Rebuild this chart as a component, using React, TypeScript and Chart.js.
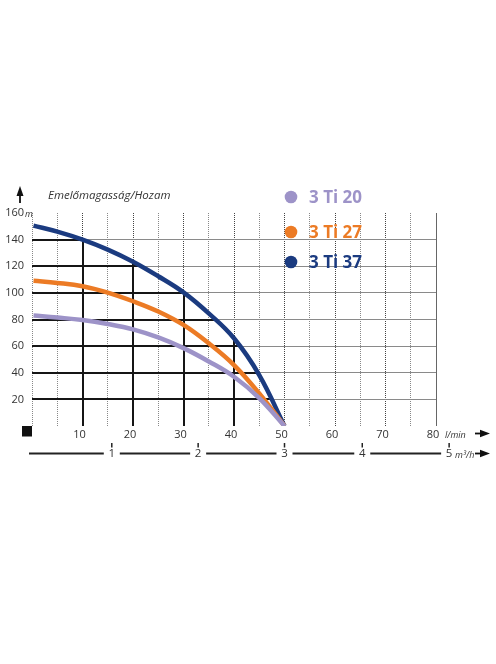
import { useEffect, useRef } from 'react';
import { Chart, registerables } from 'chart.js';

Chart.register(...registerables);

// ---- data ----
const seriesLabels = ['3 Ti 20', '3 Ti 27', '3 Ti 37'];
const seriesColors = ['#9d93c8', '#ec7b25', '#1b3b80'];

const flowLmin = [0.3, 5, 10, 15, 20, 25, 30, 35, 40, 45, 50];
const head3Ti20 = [83, 81.5, 79.6, 76.6, 72.6, 66.5, 58.5, 48.5, 37, 21, 0];
const head3Ti27 = [109.1, 107.5, 105, 100.2, 93.7, 86, 75.9, 62.1, 45.8, 24.5, 0];
const head3Ti37 = [150.5, 146, 140, 132.5, 123.4, 112.5, 100.4, 84.6, 65.9, 38.3, 0];

const xMin = 0;
const xMax = 80;
const xStep = 5;
const xLabelStep = 10;
const yMin = 0;
const yMax = 160;
const yStep = 20;

const m3hLabels = ['1', '2', '3', '4', '5'];
const m3hAtLmin = [15.8, 32.9, 50, 65.4, 82.6];

const titleText = 'Emelőmagasság/Hozam';
const yUnit = 'm';
const xUnit = 'l/min';
const x2Unit = 'm³/h';

const FONT = '"Open Sans", "DejaVu Sans", sans-serif';

function toPoints(xs: number[], ys: number[]) {
  return xs.map((x, i) => ({ x, y: ys[i] }));
}

const darkGridPlugin = {
  id: 'darkGrid',
  beforeDatasetsDraw(chart: any) {
    const { ctx, chartArea: a, scales } = chart;
    const xs = scales.x;
    const ys = scales.y;
    // solid right border
    ctx.save();
    ctx.strokeStyle = '#666';
    ctx.lineWidth = 1;
    const rx = Math.round(xs.getPixelForValue(xMax)) + 0.5;
    ctx.beginPath();
    ctx.moveTo(rx, a.top);
    ctx.lineTo(rx, a.bottom);
    ctx.stroke();
    ctx.restore();

    const meta = chart.getDatasetMeta(2);
    const line: any = meta.dataset;
    const pts: any[] = meta.data as any[];
    if (!line || !pts.length || typeof line.path !== 'function') return;
    if (typeof line.updateControlPoints === 'function') line.updateControlPoints(a, 'x');
    ctx.save();
    ctx.beginPath();
    line.path(ctx);
    const last = pts[pts.length - 1];
    const first = pts[0];
    ctx.lineTo(last.x, a.bottom);
    ctx.lineTo(a.left, a.bottom);
    ctx.lineTo(a.left, first.y);
    ctx.closePath();
    ctx.clip();
    ctx.strokeStyle = '#151515';
    ctx.lineWidth = 2;
    ctx.beginPath();
    for (let v = xMin + xLabelStep; v < xMax; v += xLabelStep) {
      const px = Math.round(xs.getPixelForValue(v));
      ctx.moveTo(px, a.top);
      ctx.lineTo(px, a.bottom);
    }
    for (let v = yMin + yStep; v < yMax; v += yStep) {
      const py = Math.round(ys.getPixelForValue(v));
      ctx.moveTo(a.left, py);
      ctx.lineTo(a.right, py);
    }
    ctx.stroke();
    ctx.restore();
  },
};

function rightArrow(ctx: CanvasRenderingContext2D, x: number, y: number) {
  ctx.beginPath();
  ctx.moveTo(x, y);
  ctx.lineTo(x + 7, y);
  ctx.lineWidth = 1.8;
  ctx.strokeStyle = '#111';
  ctx.stroke();
  ctx.beginPath();
  ctx.moveTo(x + 5, y - 3.8);
  ctx.lineTo(x + 15, y);
  ctx.lineTo(x + 5, y + 3.8);
  ctx.closePath();
  ctx.fillStyle = '#111';
  ctx.fill();
}

const decorPlugin = {
  id: 'decor',
  afterDraw(chart: any) {
    const { ctx, chartArea: a, scales } = chart;
    const xs = scales.x;
    const ys = scales.y;
    ctx.save();

    // up arrow on y axis
    ctx.fillStyle = '#111';
    ctx.beginPath();
    ctx.moveTo(20, 186);
    ctx.lineTo(23.5, 196);
    ctx.lineTo(16.5, 196);
    ctx.closePath();
    ctx.fill();
    ctx.strokeStyle = '#111';
    ctx.lineWidth = 1.8;
    ctx.beginPath();
    ctx.moveTo(20, 194);
    ctx.lineTo(20, 203);
    ctx.stroke();

    // title
    ctx.fillStyle = '#333';
    ctx.font = `italic 11.5px ${FONT}`;
    ctx.textAlign = 'left';
    ctx.textBaseline = 'middle';
    ctx.fillText(titleText, 48, 196);

    // y unit
    ctx.font = `italic 9px ${FONT}`;
    ctx.textBaseline = 'alphabetic';
    ctx.fillText(yUnit, 25, ys.getPixelForValue(yMax) + 4);

    // origin square
    ctx.fillStyle = '#111';
    ctx.fillRect(a.left - 10, a.bottom, 10, 10.5);

    // x unit + arrow
    ctx.fillStyle = '#333';
    ctx.font = `italic 9px ${FONT}`;
    ctx.textBaseline = 'middle';
    ctx.fillText(xUnit, 445, a.bottom + 9);
    rightArrow(ctx, 475, a.bottom + 7.5);

    // secondary m3/h axis
    const yAx = a.bottom + 27.5;
    let startX = xs.getPixelForValue(xMin) - 3;
    ctx.font = `11.5px ${FONT}`;
    ctx.textAlign = 'center';
    ctx.textBaseline = 'middle';
    m3hLabels.forEach((lab, i) => {
      const px = xs.getPixelForValue(m3hAtLmin[i]);
      ctx.strokeStyle = '#222';
      ctx.lineWidth = 2;
      ctx.beginPath();
      ctx.moveTo(startX, yAx);
      ctx.lineTo(px - 8, yAx);
      ctx.stroke();
      ctx.lineWidth = 1.5;
      ctx.beginPath();
      ctx.moveTo(px, yAx - 10.5);
      ctx.lineTo(px, yAx - 6);
      ctx.stroke();
      ctx.fillStyle = '#333';
      ctx.fillText(lab, px, yAx + 0.5);
      startX = px + 8;
    });
    ctx.textAlign = 'left';
    ctx.font = `italic 9px ${FONT}`;
    ctx.fillText(x2Unit, 455, yAx + 1.5);
    rightArrow(ctx, 475, yAx);

    // legend
    const legendY = [197, 232, 262];
    chart.data.datasets.forEach((ds: any, i: number) => {
      ctx.fillStyle = ds.borderColor;
      ctx.beginPath();
      ctx.arc(291, legendY[i], 6.3, 0, Math.PI * 2);
      ctx.fill();
      ctx.font = `bold 17px ${FONT}`;
      ctx.textAlign = 'left';
      ctx.textBaseline = 'middle';
      ctx.fillText(ds.label, 309, legendY[i] + 1);
    });

    ctx.restore();
  },
};

export default function App() {
  const ref = useRef<HTMLCanvasElement | null>(null);

  useEffect(() => {
    if (!ref.current) return;
    const heads = [head3Ti20, head3Ti27, head3Ti37];
    const chart = new Chart(ref.current, {
      type: 'line',
      data: {
        datasets: seriesLabels.map((label, i) => ({
          label,
          data: toPoints(flowLmin, heads[i]),
          borderColor: seriesColors[i],
          backgroundColor: seriesColors[i],
          borderWidth: 4.5,
          pointRadius: 0,
          tension: 0.4,
          fill: false,
        })),
      },
      options: {
        animation: false,
        responsive: false,
        maintainAspectRatio: false,
        events: [],
        layout: { padding: { top: 213, right: 60, left: 0, bottom: 0 } },
        plugins: {
          legend: { display: false },
          tooltip: { enabled: false },
        },
        scales: {
          x: {
            type: 'linear',
            min: xMin,
            max: xMax,
            afterFit: (s: any) => {
              s.height = 238;
            },
            border: { display: false, dash: [1, 1] },
            grid: {
              drawTicks: false,
              lineWidth: 1,
              color: (c: any) => {
                const v = c.tick ? c.tick.value : 1;
                if (v === xMax) return 'rgba(0,0,0,0)';
                if (v === xMin) return '#888';
                return v % xLabelStep === 0 ? '#444' : '#888';
              },
            },
            ticks: {
              stepSize: xStep,
              autoSkip: false,
              maxRotation: 0,
              padding: 2,
              labelOffset: -3,
              color: '#333',
              font: { family: FONT, size: 11 },
              callback: (v: any) => (Number(v) % xLabelStep === 0 && Number(v) !== xMin ? String(v) : ''),
            },
          },
          y: {
            type: 'linear',
            min: yMin,
            max: yMax,
            afterFit: (s: any) => {
              s.width = 32;
            },
            border: { display: false },
            grid: {
              drawTicks: false,
              lineWidth: 1,
              color: (c: any) => {
                const v = c.tick ? c.tick.value : 0;
                return v === yMin || v === yMax ? 'rgba(0,0,0,0)' : '#8a8a8a';
              },
            },
            ticks: {
              stepSize: yStep,
              padding: 8,
              color: '#333',
              font: { family: FONT, size: 11 },
              callback: (v: any) => (Number(v) === yMin ? '' : String(v)),
            },
          },
        },
      },
      plugins: [darkGridPlugin, decorPlugin],
    } as any);
    return () => chart.destroy();
  }, []);

  return (
    <div style={{ position: 'absolute', left: 0, top: 0, width: 496, height: 664, background: '#fff' }}>
      <canvas ref={ref} width={496} height={664} style={{ width: 496, height: 664, display: 'block' }} />
    </div>
  );
}
